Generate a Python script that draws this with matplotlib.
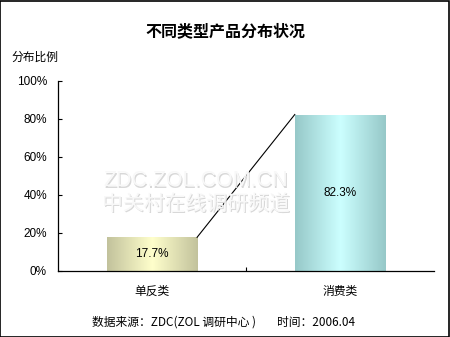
import numpy as np
import matplotlib
matplotlib.use('Agg')
import matplotlib.pyplot as plt
from matplotlib.patches import Rectangle
from matplotlib.colors import LinearSegmentedColormap

plt.rcParams['font.family'] = ['Noto Sans CJK SC', 'DejaVu Sans']

# data
categories = ['单反类', '消费类']
shares = [17.7, 82.3]
value_labels = ['17.7%', '82.3%']
yticks = [0, 20, 40, 60, 80, 100]
ytick_labels = ['0%', '20%', '40%', '60%', '80%', '100%']
title = '不同类型产品分布状况'
ylabel = '分布比例'
footer = '数据来源：ZDC(ZOL 调研中心 )        时间：2006.04'
watermark = ['ZDC.ZOL.COM.CN', '中关村在线调研频道']

bar_cmaps = [
    LinearSegmentedColormap.from_list('olive', ['#c2c29c', '#ffffcc', '#c2c29c']),
    LinearSegmentedColormap.from_list('aqua', ['#96c8c8', '#ccffff', '#96c8c8']),
]

fig = plt.figure(figsize=(4.5, 3.37), dpi=100)
fig.patch.set_facecolor('white')
ax = fig.add_axes([0.129, 0.196, 0.835, 0.564])

x = np.arange(len(categories))
width = 0.48
bars = ax.bar(x, shares, width=width, color='none', edgecolor='none', zorder=2)

# horizontal gradient fill for each bar
grad = np.linspace(0, 1, 256).reshape(1, -1)
for b, cm in zip(bars, bar_cmaps):
    x0, y0 = b.get_x(), b.get_y()
    im = ax.imshow(grad, cmap=cm, aspect='auto', zorder=2,
                   extent=(x0, x0 + b.get_width(), y0, y0 + b.get_height()))
    im.set_clip_path(b)

# series line between bar tops
ax.plot([x[0] + width / 2, x[1] - width / 2], shares, color='black', lw=0.8, zorder=3)

for xi, v, lab in zip(x, shares, value_labels):
    ax.text(xi, v / 2, lab, ha='center', va='center', fontsize=8.5,
            family=['Liberation Sans', 'DejaVu Sans'], zorder=4)

ax.set_xlim(-0.5, len(categories) - 0.5)
ax.set_ylim(0, 100)
ax.set_yticks(yticks)
ax.set_yticklabels(ytick_labels, fontsize=8.5, family=['Liberation Sans', 'DejaVu Sans'])
ax.set_xticks(x)
ax.set_xticklabels(categories, fontsize=8.5)
ax.set_xticks([0.5], minor=True)
ax.tick_params(axis='x', which='major', length=0, pad=10)
ax.tick_params(axis='x', which='minor', direction='in', length=3, width=0.8)
ax.tick_params(axis='y', direction='in', length=3, width=0.8, pad=8)
ax.spines['top'].set_visible(False)
ax.spines['right'].set_visible(False)
for s in ('left', 'bottom'):
    ax.spines[s].set_linewidth(0.9)

# watermark
for i, (txt, fam, fs) in enumerate(zip(watermark,
                                       [['Liberation Sans', 'DejaVu Sans'], ['Noto Sans CJK SC']],
                                       [15.5, 15])):
    yy = 1 - (181 + i * 24) / 337
    fig.text(196 / 450 + 0.002, yy - 0.003, txt, ha='center', va='center', fontsize=fs,
             family=fam, color='#d8d8d8', zorder=0.5)
    fig.text(196 / 450, yy, txt, ha='center', va='center', fontsize=fs,
             family=fam, color='#f8f8f8', zorder=0.6)

fig.text(0.5, 1 - 31 / 337, title, ha='center', va='center', fontsize=11.5, fontweight='bold')
fig.text(11 / 450, 1 - 57 / 337, ylabel, ha='left', va='center', fontsize=8.5)
fig.text(224 / 450, 1 - 322 / 337, footer, ha='center', va='center', fontsize=8.5)

fig.patches.append(Rectangle((0.001, 0.001), 0.997, 0.996, transform=fig.transFigure,
                             fill=False, edgecolor='black', linewidth=1.2))

fig.savefig('out.png', dpi=100)
